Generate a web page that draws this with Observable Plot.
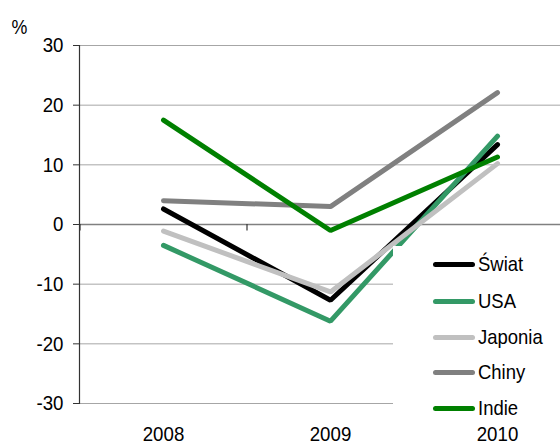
<!DOCTYPE html>
<html>
<head>
<meta charset="utf-8">
<script src="https://cdn.jsdelivr.net/npm/d3@7"></script>
<script src="https://cdn.jsdelivr.net/npm/@observablehq/plot@0.6"></script>
<style>
  body { margin: 0; background: #fff; }
  #wrap { position: relative; width: 560px; height: 447px; overflow: hidden; font-family: "Liberation Sans", Arial, sans-serif; }
  #legend { position: absolute; left: 393px; top: 246px; width: 167px; height: 180px; background: #fff; }
  .item { position: absolute; left: 40px; height: 24px; display: flex; align-items: center; font-size: 21px; color: #000; }
  .item span { display: inline-block; transform: scaleX(0.88); transform-origin: 0 50%; }
  .swatch { width: 42px; height: 5px; border-radius: 3px; margin-right: 3px; }
</style>
</head>
<body>
<div id="wrap"></div>
<script>
const years = [2008, 2009, 2010];
const series = ["Świat", "USA", "Japonia", "Chiny", "Indie"];
const colors = ["#000000", "#339966", "#c0c0c0", "#808080", "#008000"];
const swiat = [2.6, -12.7, 13.4];
const usa = [-3.5, -16.2, 14.8];
const japonia = [-1.1, -11.3, 10.2];
const chiny = [4.0, 3.0, 22.1];
const indie = [17.5, -1.0, 11.3];
const yTicks = [-30, -20, -10, 0, 10, 20, 30];
const boundaries = [2007.5, 2008.5, 2009.5];

const values = [swiat, usa, japonia, chiny, indie];
const rows = [];
series.forEach((s, i) => years.forEach((y, j) => rows.push({series: s, year: y, value: values[i][j]})));

const font = "Liberation Sans, Arial, sans-serif";

const chart = Plot.plot({
  width: 560,
  height: 447,
  marginLeft: 79,
  marginRight: 0,
  marginTop: 45,
  marginBottom: 44,
  style: {fontFamily: font, fontSize: "21px", background: "#fff", overflow: "visible"},
  x: {type: "linear", domain: [2007.5, 2010.5], range: [79.5, 580.5], label: null},
  y: {domain: [-30, 30], label: null},
  color: {domain: series, range: colors},
  marks: [
    Plot.ruleY(yTicks.filter(d => d !== 0), {stroke: "#a6a6a6", strokeWidth: 1}),
    Plot.ruleY([0], {stroke: "#808080", strokeWidth: 1.3}),
    Plot.ruleX(boundaries, {y1: 0, y2: -1.1, stroke: "#333", strokeWidth: 1.2}),
    Plot.frame({anchor: "left", stroke: "#333", strokeWidth: 1.2}),
    Plot.axisY({ticks: yTicks, tickFormat: d => String(d), tickSize: 6, tickPadding: 10, stroke: "#333", fontSize: 21, label: null}),
    Plot.axisX({ticks: years, tickFormat: d => String(d), tickSize: 0, tickPadding: 23, fontSize: 21, label: null}),
    Plot.text(["%"], {frameAnchor: "top-left", dx: -68, dy: -26, textAnchor: "start", lineAnchor: "top", fontSize: 21}),
    Plot.line(rows, {x: "year", y: "value", z: "series", stroke: "series", strokeWidth: 5, strokeLinecap: "round", strokeLinejoin: "miter"})
  ]
});
document.getElementById("wrap").appendChild(chart);

// condense the text horizontally (reference uses a narrow face)
d3.select(chart).selectAll('g[aria-label="y-axis tick label"] text, g[aria-label="x-axis tick label"] text, g[aria-label="text"] text')
  .each(function() {
    const t = this.getAttribute("transform");
    const sx = this.parentNode.getAttribute("aria-label") === "text" ? 0.85 : 0.89;
    if (t) this.setAttribute("transform", t + ` scale(${sx},1)`);
    else {
      const x = +this.getAttribute("x") || 0, y = +this.getAttribute("y") || 0;
      this.setAttribute("transform", `translate(${x},${y}) scale(${sx},1)`);
      this.setAttribute("x", 0); this.setAttribute("y", 0);
    }
  });

const legend = document.createElement("div");
legend.id = "legend";
const rowTops = [264, 301, 337, 372, 408];
series.forEach((s, i) => {
  const it = document.createElement("div");
  it.className = "item";
  it.style.top = (rowTops[i] - 246 - 12) + "px";
  const sw = document.createElement("div");
  sw.className = "swatch";
  sw.style.background = colors[i];
  const tx = document.createElement("span");
  tx.textContent = s;
  it.appendChild(sw);
  it.appendChild(tx);
  legend.appendChild(it);
});
document.getElementById("wrap").appendChild(legend);
</script>
</body>
</html>
